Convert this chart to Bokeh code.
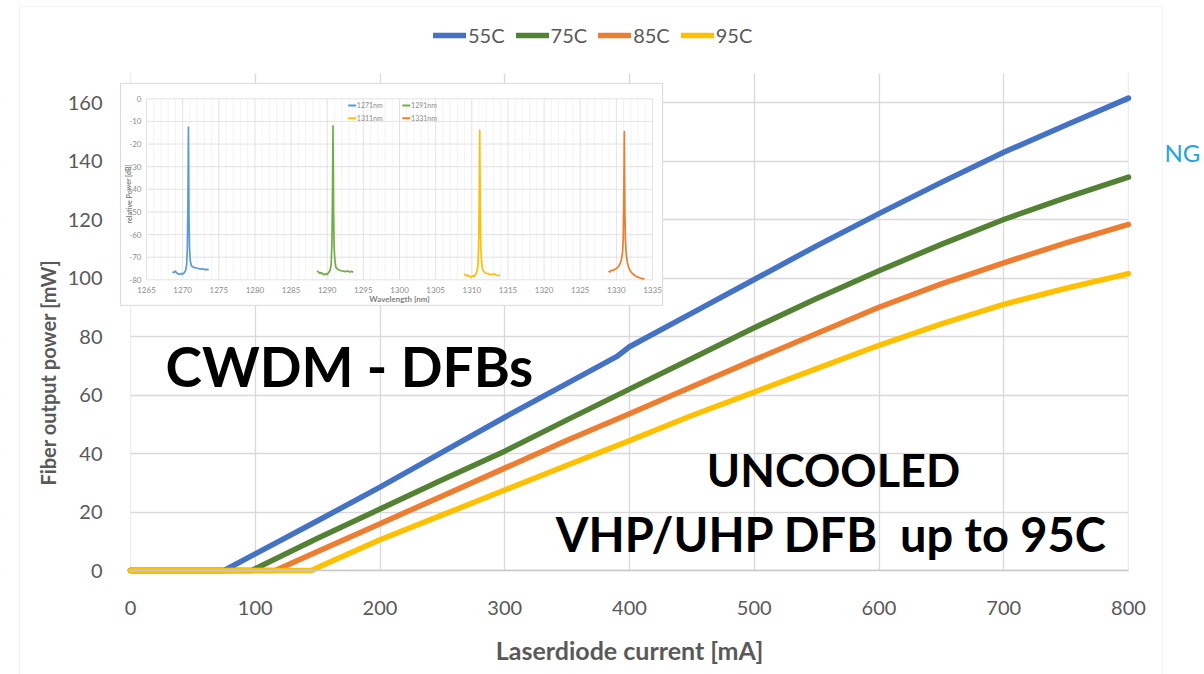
import math
from bokeh.plotting import figure
from bokeh.models import Range1d, FixedTicker, Legend, LegendItem, Label, BoxAnnotation
from bokeh.core.properties import value
from bokeh.embed import file_html
from bokeh.resources import INLINE

# ---------------- data: L-I curves ----------------
series_names = ["55C", "75C", "85C", "95C"]
series_colors = ["#4472C4", "#548235", "#ED7D31", "#FFC000"]

i_55C = [0, 75, 100, 150, 200, 250, 300, 350, 390, 400, 450, 500, 550, 600, 650, 700, 750, 800]
p_55C = [0, 0, 5.7, 17, 28.5, 40.5, 52.4, 64, 73.2, 76.5, 88, 99.5, 111, 122, 132.7, 143, 152.3, 161.5]

i_75C = [0, 97, 100, 150, 200, 250, 300, 350, 400, 450, 500, 550, 600, 650, 700, 750, 800]
p_75C = [0, 0, 0.6, 11, 21, 31, 40.8, 51.5, 62, 72.5, 83, 93, 102.5, 111.5, 120, 127.5, 134.5]

i_85C = [0, 116, 150, 200, 250, 300, 350, 400, 450, 500, 550, 600, 650, 700, 750, 800]
p_85C = [0, 0, 6.5, 16, 25.5, 35, 44.5, 53.6, 62.8, 72, 81, 90, 98, 105.2, 112, 118.3]

i_95C = [0, 145, 150, 200, 250, 300, 350, 400, 450, 500, 550, 600, 650, 700, 750, 800]
p_95C = [0, 0, 1, 10.5, 19, 27.5, 36, 44.4, 53, 61, 69, 77, 84.3, 91, 96.5, 101.5]

x_ticks = [0, 100, 200, 300, 400, 500, 600, 700, 800]
y_ticks = [0, 20, 40, 60, 80, 100, 120, 140, 160]

# ---------------- data: inset spectra ----------------
inset_names = ["1271nm", "1291nm", "1311nm", "1331nm"]
inset_colors = ["#5B9BD5", "#70AD47", "#FFC000", "#ED7D31"]

wl_1271 = [1268.6, 1268.8, 1269.0, 1269.2, 1269.4, 1269.6, 1269.8, 1270.0, 1270.2, 1270.4, 1270.55,
           1270.65, 1270.72, 1270.77, 1270.8, 1270.83, 1270.88, 1270.95, 1271.05, 1271.2, 1271.4,
           1271.6, 1271.9, 1272.2, 1272.5, 1272.8, 1273.1, 1273.4, 1273.6]
db_1271 = [-76.5, -76.8, -76.2, -77.0, -77.4, -77.6, -77.2, -77.5, -77.0, -76.0, -73.5, -66.0, -48.0,
           -28.0, -12.5, -30.0, -52.0, -66.0, -71.5, -73.8, -74.2, -74.5, -74.8, -75.0, -75.3, -75.1,
           -75.5, -75.4, -75.6]

wl_1291 = [1288.6, 1288.8, 1289.0, 1289.2, 1289.4, 1289.6, 1289.8, 1290.0, 1290.2, 1290.4, 1290.55,
           1290.65, 1290.72, 1290.77, 1290.8, 1290.83, 1290.88, 1290.95, 1291.05, 1291.2, 1291.4,
           1291.6, 1291.9, 1292.2, 1292.5, 1292.8, 1293.1, 1293.4, 1293.6]
db_1291 = [-76.0, -76.6, -77.2, -76.8, -77.5, -77.8, -77.3, -77.6, -76.8, -75.8, -73.0, -64.0, -46.0,
           -26.0, -12.0, -28.0, -50.0, -65.0, -71.0, -74.5, -75.2, -75.6, -76.0, -76.2, -76.4, -76.1,
           -76.5, -76.3, -76.6]

wl_1311 = [1308.9, 1309.1, 1309.3, 1309.5, 1309.7, 1309.9, 1310.1, 1310.3, 1310.5, 1310.7, 1310.85,
           1310.95, 1311.02, 1311.07, 1311.1, 1311.13, 1311.18, 1311.25, 1311.35, 1311.5, 1311.7,
           1311.9, 1312.2, 1312.5, 1312.8, 1313.1, 1313.4, 1313.7, 1313.9]
db_1311 = [-77.5, -77.8, -78.3, -77.9, -78.5, -78.8, -78.2, -78.6, -77.8, -76.5, -73.5, -65.0, -47.0,
           -28.0, -14.0, -30.0, -52.0, -66.0, -72.0, -75.5, -76.5, -77.0, -77.2, -77.6, -77.8, -77.3,
           -78.0, -78.2, -77.9]

wl_1331 = [1328.9, 1329.1, 1329.3, 1329.5, 1329.7, 1329.9, 1330.1, 1330.3, 1330.5, 1330.7, 1330.85,
           1330.95, 1331.02, 1331.07, 1331.1, 1331.13, 1331.18, 1331.25, 1331.35, 1331.5, 1331.7,
           1331.9, 1332.2, 1332.5, 1332.8, 1333.1, 1333.4, 1333.7, 1333.9]
db_1331 = [-76.2, -76.5, -75.8, -76.0, -75.5, -75.2, -74.8, -74.0, -73.0, -71.0, -68.0, -62.0, -45.0,
           -28.0, -14.5, -30.0, -50.0, -62.0, -68.0, -72.0, -74.5, -76.0, -77.2, -78.0, -78.6, -79.0,
           -79.3, -79.6, -79.4]

inset_x_ticks = [1265, 1270, 1275, 1280, 1285, 1290, 1295, 1300, 1305, 1310, 1315, 1320, 1325, 1330, 1335]
inset_y_ticks = [0, -10, -20, -30, -40, -50, -60, -70, -80]

# ---------------- layout (page pixels) ----------------
FONT = "Lato"
W, H = 1204, 674
X0_PX, X_PX_PER = 130.0, 998.0 / 800.0     # page x of 0 mA, px per mA
Y0_PX, Y_PX_PER = 570.0, 468.0 / 160.0     # page y of 0 mW, px per mW
PLOT_TOP_PX = 73.0


def ix(px):
    return (px - X0_PX) / X_PX_PER


def py(px):
    return (Y0_PX - px) / Y_PX_PER


# the frame covers the whole canvas; axes sit at fixed data locations
p = figure(width=W, height=H, x_range=Range1d(ix(0), ix(W)), y_range=Range1d(py(H), py(0)),
           output_backend="svg", toolbar_location=None, min_border=0)
p.outline_line_color = None
p.background_fill_color = "white"
p.border_fill_color = "white"

# grids
p.xgrid.ticker = FixedTicker(ticks=x_ticks)
p.ygrid.ticker = FixedTicker(ticks=y_ticks)
for g in (p.xgrid, p.ygrid):
    g.grid_line_color = "#D9D9D9"
    g.grid_line_width = 1.3

# white masks: keep grid lines inside the plot area only
for kw in (dict(right=0), dict(left=800), dict(top=0), dict(bottom=py(PLOT_TOP_PX))):
    p.add_layout(BoxAnnotation(fill_color="white", fill_alpha=1, line_alpha=0, level="underlay", **kw))

# axes
p.xaxis.ticker = FixedTicker(ticks=x_ticks)
p.yaxis.ticker = FixedTicker(ticks=y_ticks)
p.xaxis.fixed_location = 0
p.yaxis.fixed_location = 0
p.xaxis.bounds = (0, 800)
p.yaxis.bounds = (0, 160)
p.xaxis.axis_line_color = "#C8C8C8"
p.xaxis.axis_line_width = 1.3
p.yaxis.axis_line_color = None
for ax in (p.xaxis, p.yaxis):
    ax.major_tick_line_color = None
    ax.minor_tick_line_color = None
    ax.major_label_text_font = FONT
    ax.major_label_text_font_size = "20px"
    ax.major_label_text_color = "#595959"
    ax.axis_label_text_font = FONT
    ax.axis_label_text_font_style = "bold"
    ax.axis_label_text_color = "#595959"
p.xaxis.major_label_standoff = 24
p.yaxis.major_label_standoff = 22
p.xaxis.axis_label = "Laserdiode current [mA]"
p.xaxis.axis_label_text_font_size = "25px"
p.xaxis.axis_label_standoff = 17

# y axis title (placed off-centre as in the reference)
p.add_layout(Label(x=ix(47), y=py(372), text="Fiber output power [mW]", angle=math.pi / 2,
                   text_font=FONT, text_font_style="bold", text_font_size="20px", text_color="#595959",
                   text_align="center", text_baseline="middle"))

# curves
curve_data = [(i_55C, p_55C), (i_75C, p_75C), (i_85C, p_85C), (i_95C, p_95C)]
renderers = []
for (xs, ys), c in zip(curve_data, series_colors):
    r = p.line(xs, ys, line_color=c, line_width=5.5, line_cap="round", line_join="round")
    renderers.append(r)

legend = Legend(items=[LegendItem(label=n, renderers=[r]) for n, r in zip(series_names, renderers)],
                orientation="horizontal", location=(433, H - 47),
                glyph_width=33, glyph_height=20, label_standoff=2, spacing=11, padding=0, margin=0,
                border_line_color=None, background_fill_alpha=0,
                label_text_font=FONT, label_text_font_size="20px", label_text_color="#595959")
p.add_layout(legend)

# ---------------- inset spectrum ----------------
sub = p.subplot(x_source=Range1d(1265, 1335), y_source=Range1d(-80, 0),
                x_target=Range1d(ix(146), ix(652)), y_target=Range1d(py(279.3), py(98.3)))

# inset panel background
sub.quad(left=[1261.4], right=[1336.4], top=[6.8], bottom=[-91.3],
         fill_color="white", line_color="#D9D9D9", line_width=1)

minor_x = [v + k for v in inset_x_ticks[:-1] for k in range(1, 5)]
sub.segment(x0=minor_x, y0=[-80] * len(minor_x), x1=minor_x, y1=[0] * len(minor_x),
            line_color="#EFEFEF", line_width=0.7)
sub.segment(x0=inset_x_ticks, y0=[-80] * len(inset_x_ticks), x1=inset_x_ticks, y1=[0] * len(inset_x_ticks),
            line_color="#DCDCDC", line_width=0.8)
sub.segment(x0=[1265] * len(inset_y_ticks), y0=inset_y_ticks, x1=[1335] * len(inset_y_ticks), y1=inset_y_ticks,
            line_color="#DCDCDC", line_width=0.8)

for (xs, ys), c in zip([(wl_1271, db_1271), (wl_1291, db_1291), (wl_1311, db_1311), (wl_1331, db_1331)],
                       inset_colors):
    sub.line(xs, ys, line_color=c, line_width=1.7, line_join="round")

# inset tick labels
sub.text(x=[1265] * len(inset_y_ticks), y=inset_y_ticks, text=[str(v) for v in inset_y_ticks],
         x_offset=-5, text_align="right", text_baseline="middle",
         text_font=value(FONT), text_font_size="8px", text_color="#8C8C8C")
sub.text(x=inset_x_ticks, y=[-80] * len(inset_x_ticks), text=[str(v) for v in inset_x_ticks],
         y_offset=10, text_align="center", text_baseline="middle",
         text_font=value(FONT), text_font_size="8px", text_color="#8C8C8C")
sub.text(x=[1300], y=[-80], text=["Wavelength [nm]"], y_offset=19, text_align="center",
         text_baseline="middle", text_font=value(FONT), text_font_size="8px",
         text_font_style="bold", text_color="#7F7F7F")
sub.text(x=[1265], y=[-42], text=["relative Power [dB]"], x_offset=-18, angle=1.5708,
         text_align="center", text_baseline="middle", text_font=value(FONT), text_font_size="7px",
         text_font_style="bold", text_color="#7F7F7F")

# inset legend (2 x 2)
leg_x = [1292.9, 1300.4, 1292.9, 1300.4]
leg_y = [-2.96, -2.96, -8.57, -8.57]
sub.segment(x0=leg_x, y0=leg_y, x1=[v + 1.1 for v in leg_x], y1=leg_y,
            line_color=inset_colors, line_width=2)
sub.text(x=[v + 1.2 for v in leg_x], y=leg_y, text=inset_names, text_align="left",
         text_baseline="middle", text_font=value(FONT), text_font_size="7px", text_color="#8C8C8C")

# ---------------- big annotations ----------------
p.add_layout(Label(x=ix(165), y=py(365), text="CWDM - DFBs", text_font=FONT, text_font_style="bold",
                   text_font_size="55px", text_color="black", text_align="left", text_baseline="alphabetic"))
p.add_layout(Label(x=ix(833), y=py(469), text="UNCOOLED", text_font=FONT, text_font_style="bold",
                   text_font_size="45px", text_color="black", text_align="center", text_baseline="alphabetic"))
p.add_layout(Label(x=ix(831), y=py(533), text="VHP/UHP DFB\u00a0 up to 95C", text_font=FONT,
                   text_font_style="bold", text_font_size="47px", text_color="black",
                   text_align="center", text_baseline="alphabetic"))

# chart border and cropped logo remnant
p.add_layout(BoxAnnotation(left=19, right=1162, top=6, bottom=H + 20,
                           left_units="canvas", right_units="canvas", top_units="canvas", bottom_units="canvas",
                           fill_alpha=0, line_color="#D9D9D9", line_width=1.2))
p.add_layout(Label(x=1164, y=152, x_units="canvas", y_units="canvas", text="NG", text_font=FONT,
                   text_font_size="24px", text_color="#1FA4E0", text_baseline="alphabetic"))

open("out.html", "w").write(file_html(p, INLINE))
